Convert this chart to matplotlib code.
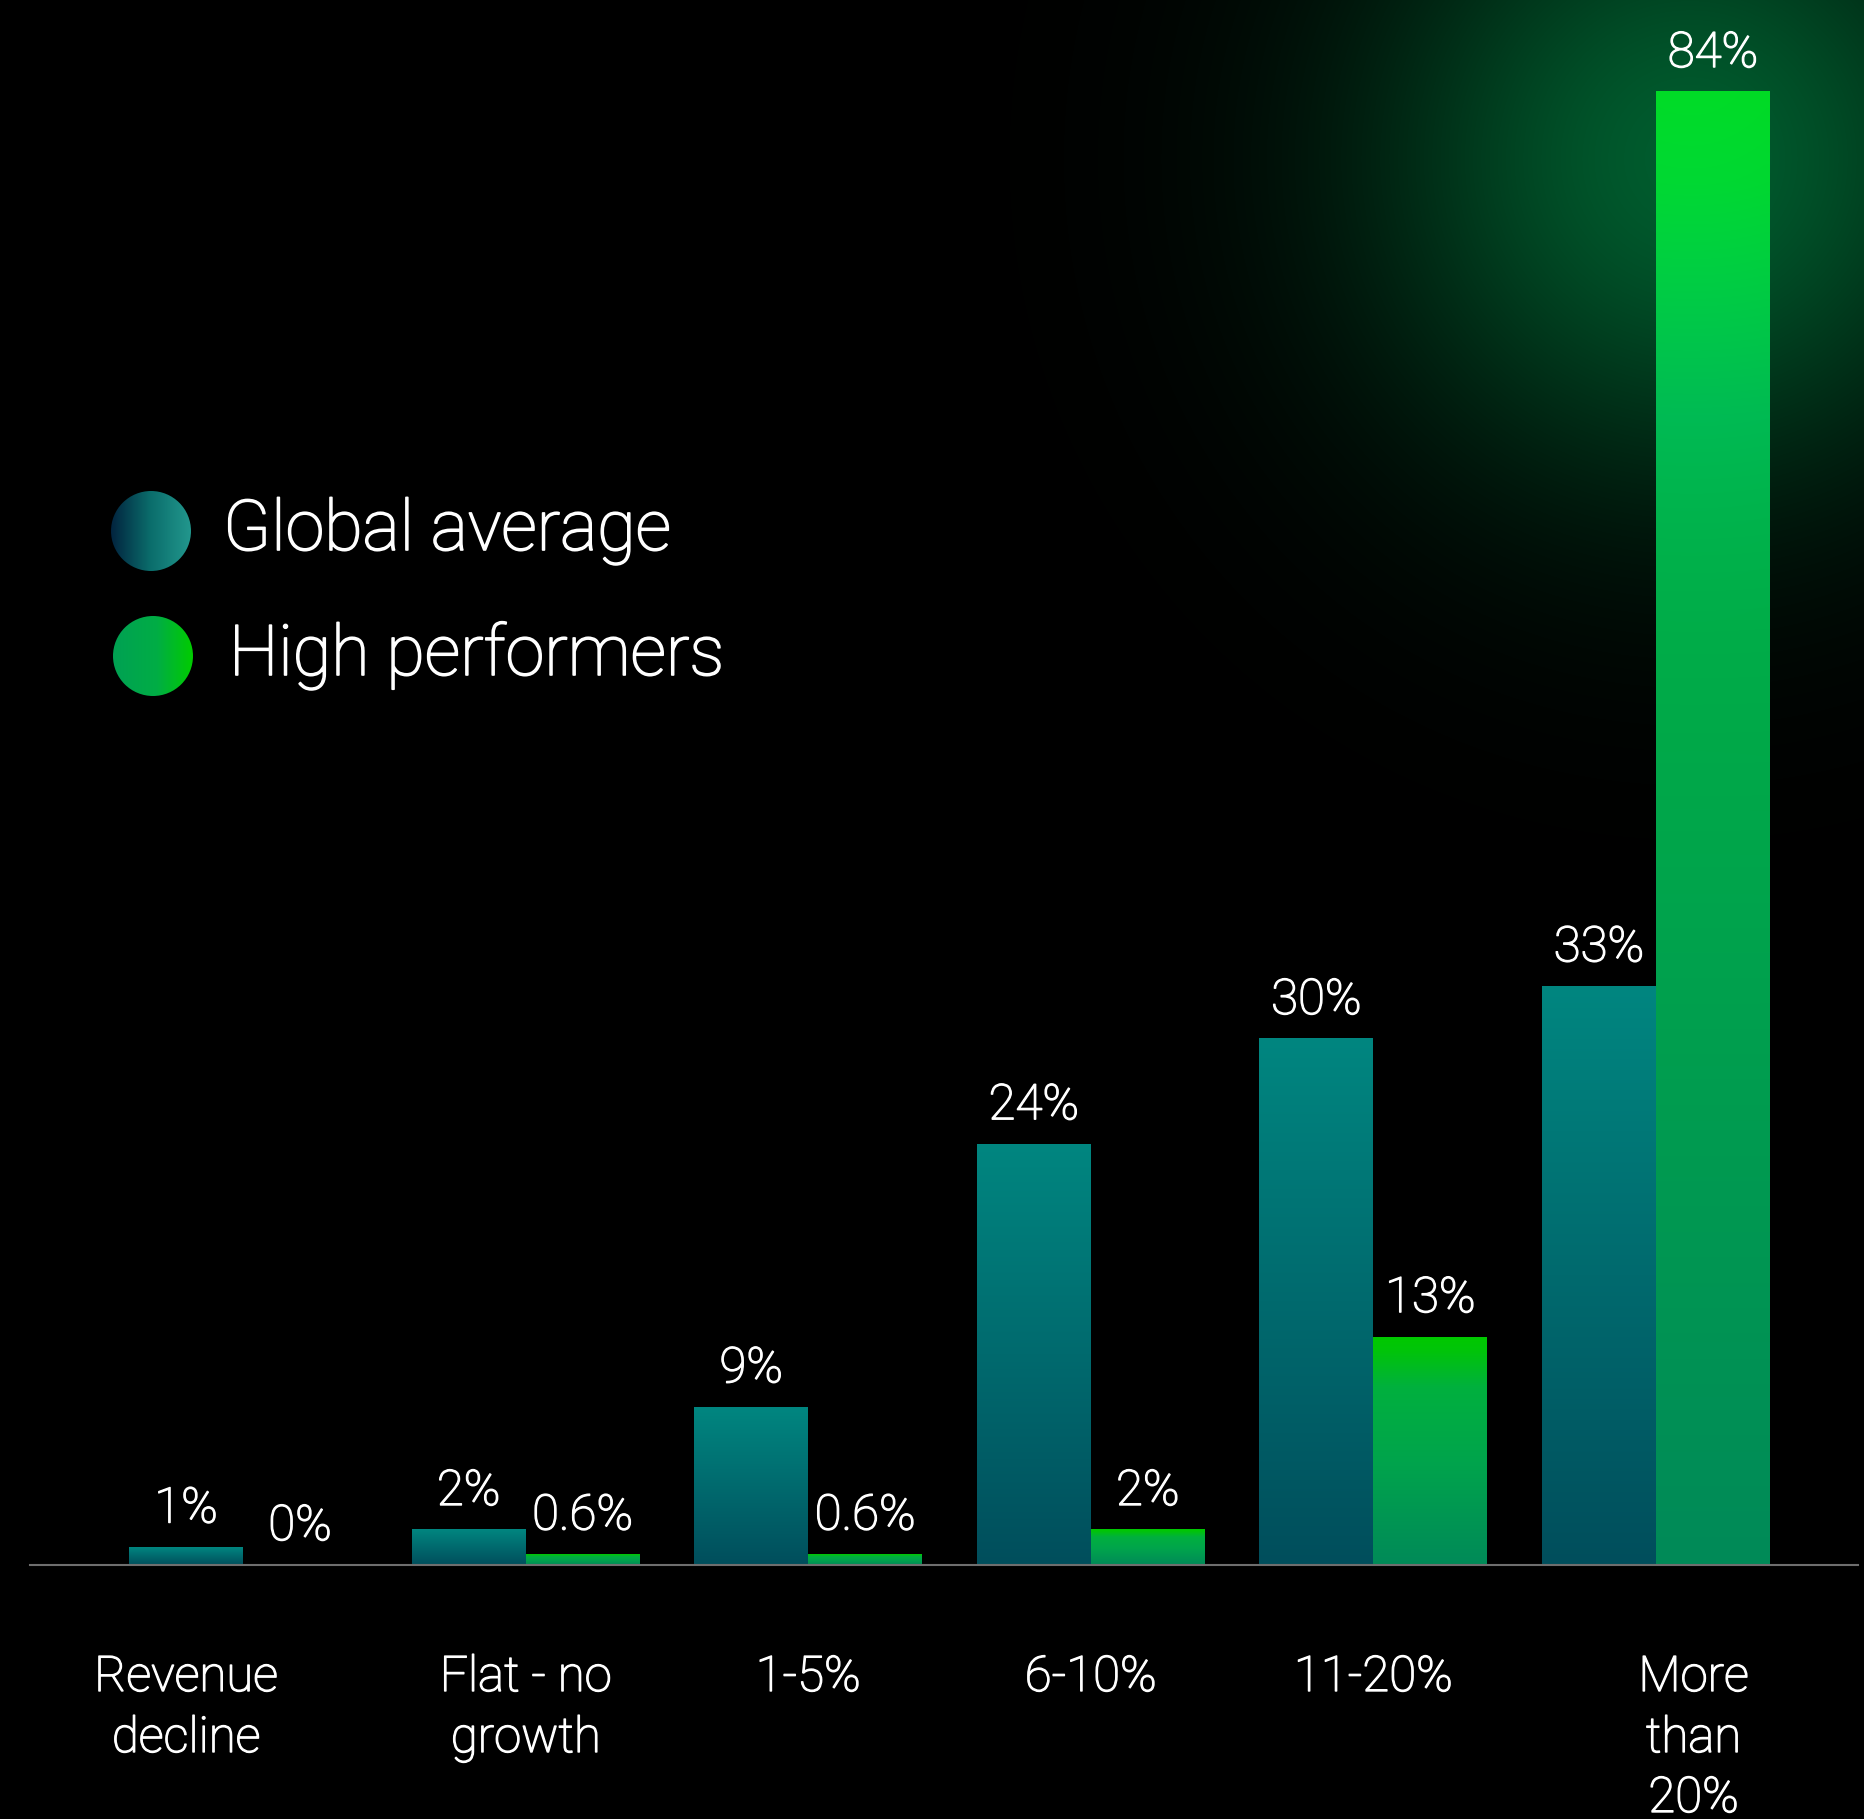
import numpy as np
import matplotlib
matplotlib.use("Agg")
import matplotlib.pyplot as plt
from matplotlib.patches import Circle
from matplotlib.colors import to_rgb
from matplotlib import transforms
import matplotlib.patheffects as pe

# ---- data -------------------------------------------------------------
categories = ["Revenue\ndecline", "Flat - no\ngrowth", "1-5%", "6-10%", "11-20%", "More\nthan\n20%"]
global_average = [1, 2, 9, 24, 30, 33]
high_performers = [0, 0.6, 0.6, 2, 13, 84]
global_labels = ["1%", "2%", "9%", "24%", "30%", "33%"]
high_labels = ["0%", "0.6%", "0.6%", "2%", "13%", "84%"]
series_names = ["Global average", "High performers"]

# ---- styling ----------------------------------------------------------
W, H, DPI = 1865, 1819, 100
FONT = ["Roboto", "DejaVu Sans"]
WEIGHT = "light"
EMBOLDEN = [pe.withStroke(linewidth=1.0, foreground="white")]
VALUE_FS = 35.4
CAT_FS = 35.4
LEGEND_FS = 50.5
TEAL_STOPS = [(0.0, "#008680"), (1.0, "#004e5c")]
GREEN_STOPS = [(0.0, "#00c800"), (0.06, "#00c40a"), (0.22, "#00b03e"),
               (0.55, "#00a44c"), (1.0, "#008a58")]
GLOW_CENTER = (1690, 160)
GLOW_SIGMA = 320
GLOW_RGB = np.array([0.0, 0.36, 0.18])
GLOW_ON_BAR = np.array([0.0, 0.08, 0.16])
BAR_W = 0.4034
XLIM = (-0.86, 5.74)
YLIM = (-14.48, 89.25)
CAT_OFFSETS = [-0.5, 0, 0, 0, 0, 0.33]   # label shift in bar widths
CAT_BASELINES = [1691, 1752, 1812]       # pixel rows from the top
LABEL_GAP_PX = 25


def ramp(stops, t):
    pos = [s[0] for s in stops]
    cols = np.array([to_rgb(s[1]) for s in stops])
    return np.stack([np.interp(t, pos, cols[:, k]) for k in range(3)], axis=-1)


def glow_field(px, py):
    r = np.hypot(px - GLOW_CENTER[0], py - GLOW_CENTER[1])
    return np.exp(-(r / GLOW_SIGMA) ** 2)


def to_pixels(xd, yd):
    px = (xd - XLIM[0]) / (XLIM[1] - XLIM[0]) * W
    py = (YLIM[1] - yd) / (YLIM[1] - YLIM[0]) * H
    return px, py


fig = plt.figure(figsize=(W / DPI, H / DPI), dpi=DPI, facecolor="black")

# background layer in pixel space: glow + legend
bg = fig.add_axes([0, 0, 1, 1])
bg.set_xlim(0, W)
bg.set_ylim(H, 0)
bg.axis("off")
yy, xx = np.mgrid[0:H, 0:W]
glow = glow_field(xx + 0.5, yy + 0.5)[..., None] * GLOW_RGB
bg.imshow(glow, extent=(0, W, H, 0), origin="upper", aspect="auto",
          interpolation="bilinear", zorder=0)

# legend markers with horizontal gradients
legend_centers = [(151, 531), (153, 656)]
legend_stops = [
    [(0.0, "#02243f"), (0.5, "#0b6e6c"), (1.0, "#22978d")],
    [(0.0, "#00a153"), (0.55, "#00ad45"), (1.0, "#00cc00")],
]
legend_text_at = [(223, 550), (229, 675)]
R = 40
for (cx, cy), stops, (tx, ty), name in zip(legend_centers, legend_stops,
                                           legend_text_at, series_names):
    t = np.linspace(0, 1, 128)
    img = np.repeat(ramp(stops, t)[None, :, :], 8, axis=0)
    im = bg.imshow(img, extent=(cx - R, cx + R, cy + R, cy - R), origin="upper",
                   aspect="auto", interpolation="bilinear", zorder=2)
    circ = Circle((cx, cy), R, transform=bg.transData, facecolor="none", edgecolor="none")
    bg.add_patch(circ)
    im.set_clip_path(circ)
    bg.text(tx, ty, name, color="white", fontsize=LEGEND_FS, family=FONT,
            fontweight=WEIGHT, ha="left", va="baseline", zorder=3,
            path_effects=[pe.withStroke(linewidth=1.2, foreground="white")])
bg.set_xlim(0, W)
bg.set_ylim(H, 0)

# ---- main chart ---------------------------------------------------------
ax = fig.add_axes([0, 0, 1, 1])
ax.patch.set_alpha(0)
ax.axis("off")

x = np.arange(len(categories))
bars_g = ax.bar(x - BAR_W / 2, global_average, BAR_W, color="none", edgecolor="none", zorder=2)
bars_h = ax.bar(x + BAR_W / 2, high_performers, BAR_W, color="none", edgecolor="none", zorder=2)


def paint(bar, stops, glow_tint=None):
    x0, y0 = bar.get_x(), bar.get_y()
    bw, bh = bar.get_width(), bar.get_height()
    if bh <= 0:
        return
    n, m = 256, 16
    t = np.linspace(0, 1, n)
    img = np.repeat(ramp(stops, t)[:, None, :], m, axis=1)
    if glow_tint is not None:
        xd = np.linspace(x0, x0 + bw, m)
        yd = np.linspace(y0 + bh, y0, n)
        XD, YD = np.meshgrid(xd, yd)
        px, py = to_pixels(XD, YD)
        img = np.clip(img + glow_field(px, py)[..., None] * glow_tint, 0, 1)
    ax.imshow(img, extent=(x0, x0 + bw, y0, y0 + bh), origin="upper",
              aspect="auto", interpolation="bilinear", zorder=2)


for b in bars_g:
    paint(b, TEAL_STOPS)
for b in bars_h:
    paint(b, GREEN_STOPS, GLOW_ON_BAR)

# baseline
ax.axhline(0, xmin=30 / W, xmax=1858 / W, color="#6e6e6e", lw=1.5, zorder=3)

# value labels
for bars, labels in ((bars_g, global_labels), (bars_h, high_labels)):
    for b, lab in zip(bars, labels):
        ax.annotate(lab, (b.get_x() + b.get_width() / 2, b.get_height()),
                    xytext=(0, LABEL_GAP_PX * 72 / DPI), textcoords="offset points",
                    ha="center", va="baseline", color="white",
                    fontsize=VALUE_FS, family=FONT, fontweight=WEIGHT, zorder=4,
                    path_effects=EMBOLDEN)

# category labels, one line at a time
trans = transforms.blended_transform_factory(ax.transData, fig.transFigure)
for xi, cat, off in zip(x, categories, CAT_OFFSETS):
    for line, base in zip(cat.split("\n"), CAT_BASELINES):
        ax.text(xi + off * BAR_W, (H - base) / H, line, transform=trans,
                ha="center", va="baseline", color="white",
                fontsize=CAT_FS, family=FONT, fontweight=WEIGHT,
                path_effects=EMBOLDEN)

ax.set_xlim(*XLIM)
ax.set_ylim(*YLIM)

fig.savefig("out.png", dpi=DPI, facecolor="black")
